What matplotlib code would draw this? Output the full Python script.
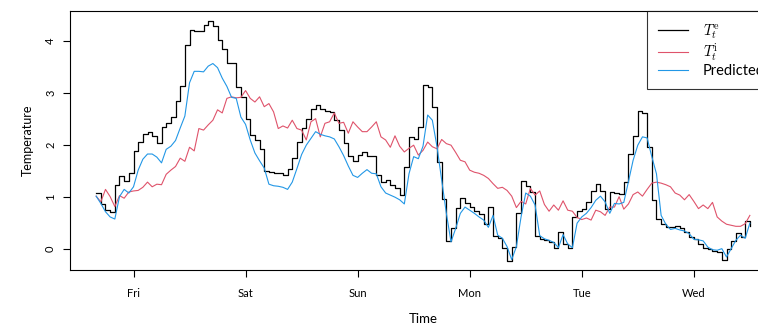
import numpy as np
import matplotlib
matplotlib.use("Agg")
import matplotlib.pyplot as plt

plt.rcParams['font.family'] = ['Lato', 'DejaVu Sans']
plt.rcParams['mathtext.fontset'] = 'cm'

# hourly series, hours counted from Friday 00:00
hours = np.arange(-8, 133)

# T_t^e (black step)
t_e = [1.08, 0.87, 0.75, 0.71, 1.23, 1.40, 1.32, 1.47,
       1.89, 2.07, 2.21, 2.25, 2.18, 2.05, 2.35, 2.43, 2.54, 2.84, 3.14, 3.92,
       4.21, 4.20, 4.19, 4.32, 4.38, 4.29, 4.03, 3.84, 3.58, 3.58, 3.12, 2.92,
       2.50, 2.19, 2.10, 1.92, 1.51, 1.49, 1.47, 1.46, 1.42, 1.55, 1.76, 2.06,
       2.33, 2.51, 2.69, 2.77, 2.69, 2.66, 2.63, 2.48, 2.30, 2.05, 1.80, 1.70,
       1.81, 1.87, 1.79, 1.79, 1.42, 1.29, 1.33, 1.23, 1.18, 1.04, 1.58, 2.16,
       2.12, 2.35, 3.15, 3.12, 2.73, 1.68, 0.97, 0.15, 0.40, 0.80, 0.99, 0.88,
       0.81, 0.74, 0.67, 0.49, 0.81, 0.26, 0.21, 0.03, -0.23, 0.04, 0.69, 1.32,
       1.22, 1.10, 0.26, 0.20, 0.17, 0.13, 0.03, 0.33, 0.10, 0.02, 0.62, 0.74,
       0.78, 0.90, 1.12, 1.26, 1.11, 0.78, 1.10, 1.08, 1.07, 1.30, 1.84, 2.17,
       2.66, 2.62, 1.97, 0.94, 0.59, 0.48, 0.43, 0.42, 0.45, 0.40, 0.34, 0.24,
       0.20, 0.10, 0.03, 0.01, -0.03, -0.06, -0.20, 0.00, 0.15, 0.31, 0.24, 0.55,
       0.45]

# T_t^i (red)
t_i = [1.02, 0.91, 1.15, 1.01, 0.82, 1.03, 0.98, 1.10,
       1.12, 1.13, 1.19, 1.29, 1.20, 1.25, 1.24, 1.44, 1.52, 1.59, 1.75, 1.69,
       1.96, 1.89, 2.32, 2.29, 2.39, 2.48, 2.68, 2.62, 2.90, 2.93, 2.91, 2.92,
       3.05, 2.90, 2.83, 2.93, 2.74, 2.80, 2.64, 2.32, 2.37, 2.33, 2.48, 2.32,
       2.29, 2.10, 2.45, 2.51, 2.16, 2.42, 2.45, 2.62, 2.42, 2.44, 2.23, 2.45,
       2.35, 2.26, 2.26, 2.35, 2.45, 2.16, 2.10, 1.96, 2.18, 1.98, 1.87, 1.94,
       2.00, 1.81, 1.90, 2.06, 1.97, 1.93, 2.11, 2.03, 2.00, 1.86, 1.71, 1.68,
       1.52, 1.48, 1.46, 1.42, 1.36, 1.26, 1.17, 1.19, 1.13, 1.02, 0.80, 0.92,
       0.87, 1.17, 1.04, 1.12, 0.86, 0.73, 0.85, 0.75, 0.93, 0.75, 0.73, 0.61,
       0.57, 0.60, 0.56, 0.75, 0.72, 0.65, 0.81, 0.81, 1.01, 0.77, 0.87, 1.05,
       1.10, 1.02, 1.15, 1.27, 1.29, 1.27, 1.24, 1.20, 1.08, 1.04, 0.95, 1.05,
       0.92, 0.78, 0.85, 0.78, 0.90, 0.62, 0.54, 0.48, 0.46, 0.44, 0.44, 0.49,
       0.65]

# predicted (blue)
pred = [1.02, 0.88, 0.72, 0.62, 0.58, 1.01, 1.15, 1.08,
        1.20, 1.52, 1.73, 1.83, 1.83, 1.77, 1.66, 1.92, 1.98, 2.09, 2.33, 2.56,
        3.20, 3.42, 3.42, 3.41, 3.52, 3.57, 3.49, 3.29, 3.13, 2.92, 2.90, 2.54,
        2.40, 2.10, 1.85, 1.70, 1.56, 1.25, 1.22, 1.21, 1.19, 1.15, 1.29, 1.55,
        1.82, 2.00, 2.13, 2.26, 2.21, 2.18, 2.16, 2.12, 1.97, 1.80, 1.60, 1.42,
        1.38, 1.46, 1.53, 1.46, 1.45, 1.20, 1.08, 1.04, 1.00, 0.95, 0.87, 1.45,
        1.78, 1.74, 1.98, 2.58, 2.48, 1.97, 1.33, 0.69, 0.14, 0.40, 0.69, 0.81,
        0.75, 0.69, 0.62, 0.56, 0.42, 0.65, 0.27, 0.21, 0.05, -0.20, 0.05, 0.62,
        1.08, 1.02, 0.85, 0.26, 0.20, 0.17, 0.13, 0.03, 0.28, 0.10, 0.03, 0.50,
        0.62, 0.69, 0.80, 0.94, 1.02, 0.91, 0.69, 0.88, 0.87, 0.90, 1.30, 1.71,
        2.00, 2.16, 2.14, 1.78, 1.45, 0.65, 0.48, 0.38, 0.40, 0.37, 0.35, 0.30,
        0.19, 0.18, 0.16, 0.04, -0.01, -0.02, 0.01, -0.15, 0.01, 0.17, 0.27, 0.21,
        0.50]

day_ticks = [0, 24, 48, 72, 96, 120]
day_labels = ['Fri', 'Sat', 'Sun', 'Mon', 'Tue', 'Wed']

fig = plt.figure(figsize=(7.58, 3.25), dpi=100)
# plot region runs past the right edge, as in the source
ax = fig.add_axes([70/758, 55/325, 706/758, 259/325])

ax.step(hours, t_e, where='post', color='black', lw=0.9, label=r'$T_t^{\mathrm{e}}$')
ax.plot(hours, t_i, color='#DF536B', lw=0.8, label=r'$T_t^{\mathrm{i}}$')
ax.plot(hours, pred, color='#2297E6', lw=0.8, label='Predicted')

ax.set_xlim(-13.6, 137.6)
ax.set_ylim(-0.40, 4.58)
ax.set_xticks(day_ticks)
ax.set_xticklabels(day_labels)
ax.set_yticks([0, 1, 2, 3, 4])
ax.tick_params(axis='both', labelsize=8, length=5, width=0.8)
ax.tick_params(axis='x', pad=8)
ax.tick_params(axis='y', pad=5)
for lab in ax.get_yticklabels():
    lab.set_rotation(90)
    lab.set_va('center')
for s in ax.spines.values():
    s.set_linewidth(0.8)

ax.set_xlabel('Time', fontsize=9.5, labelpad=10)
ax.set_ylabel('Temperature', fontsize=9, labelpad=8)

leg = ax.legend(loc='upper right', borderaxespad=0, fontsize=10.5, frameon=True,
                fancybox=False, edgecolor='black', handlelength=2.1,
                handletextpad=1.0, borderpad=0.75, labelspacing=0.05)
leg.get_frame().set_linewidth(0.8)

fig.savefig('out.png', dpi=100)
